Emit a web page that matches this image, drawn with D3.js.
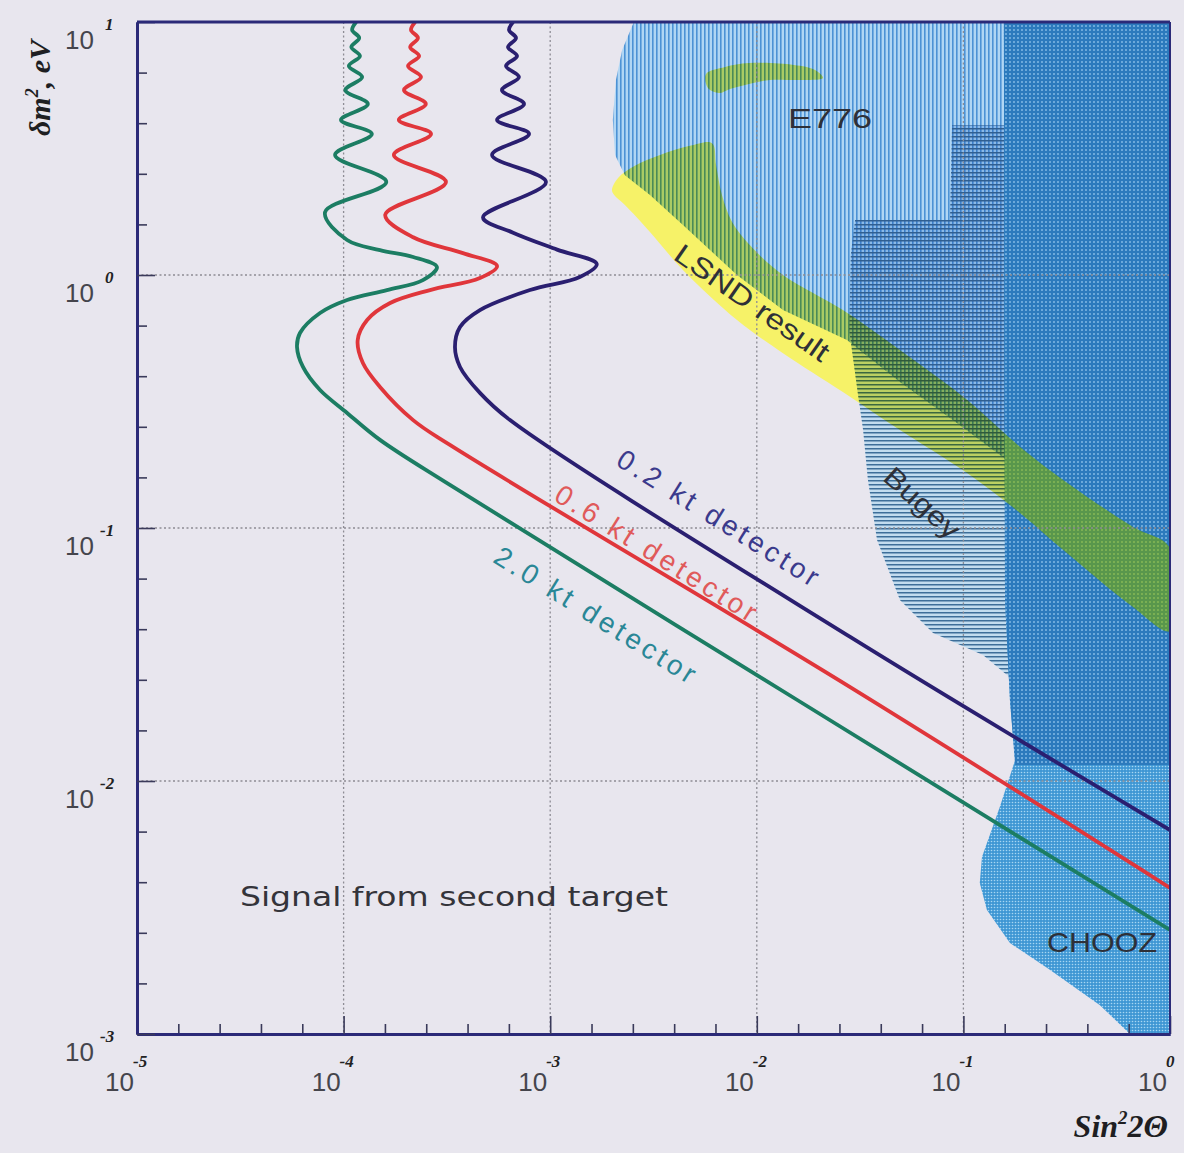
<!DOCTYPE html>
<html>
<head>
<meta charset="utf-8">
<script src="https://cdn.jsdelivr.net/npm/d3@7"></script>
<style>
  html, body { margin: 0; padding: 0; background: #e8e6ee; }
  svg { display: block; }
</style>
</head>
<body>
<svg id="chart" width="1184" height="1153"></svg>
<script>
// ---- axes ----
const xDomain = [1e-5, 1];
const yDomain = [1e-3, 10];
const xDecades = [-5, -4, -3, -2, -1, 0];
const yDecades = [-3, -2, -1, 0, 1];
const minorSteps = [0.2, 0.4, 0.6, 0.8];

// ---- sensitivity curves: [sin²2θ, δm² in eV²] ----
const curve02kt = [
  [6.61e-4, 10], [6.32e-4, 9.30], [6.83e-4, 8.65], [6.25e-4, 7.96], [6.91e-4, 7.34],
  [6.11e-4, 6.70], [7.06e-4, 6.06], [5.84e-4, 5.38], [7.47e-4, 4.74], [5.53e-4, 4.10],
  [7.90e-4, 3.61], [5.23e-4, 2.98], [9.54e-4, 2.33], [4.73e-4, 1.69], [6.61e-4, 1.47],
  [1.08e-3, 1.26], [1.68e-3, 1.105], [1.39e-3, 0.982], [7.98e-4, 0.872], [4.57e-4, 0.727],
  [3.66e-4, 0.623], [3.46e-4, 0.519], [3.66e-4, 0.433], [4.57e-4, 0.342], [6.39e-4, 0.267],
  [2.83e-2, 0.0371], [1.0, 0.00640]
];
const curve06kt = [
  [2.22e-4, 10], [2.12e-4, 9.30], [2.29e-4, 8.65], [2.10e-4, 7.96], [2.32e-4, 7.34],
  [2.05e-4, 6.70], [2.37e-4, 6.06], [1.96e-4, 5.38], [2.50e-4, 4.74], [1.85e-4, 4.10],
  [2.65e-4, 3.61], [1.75e-4, 2.98], [3.13e-4, 2.33], [1.59e-4, 1.73], [2.17e-4, 1.41],
  [3.78e-4, 1.22], [5.53e-4, 1.085], [4.57e-4, 0.973], [2.62e-4, 0.872], [1.68e-4, 0.775],
  [1.30e-4, 0.664], [1.17e-4, 0.553], [1.24e-4, 0.449], [1.50e-4, 0.361], [2.17e-4, 0.267],
  [3.27e-4, 0.213], [2.83e-2, 0.0235], [1.0, 0.00378]
];
const curve20kt = [
  [1.15e-4, 10], [1.10e-4, 9.30], [1.19e-4, 8.65], [1.09e-4, 7.96], [1.20e-4, 7.34],
  [1.06e-4, 6.70], [1.23e-4, 6.06], [1.02e-4, 5.38], [1.31e-4, 4.74], [9.71e-5, 4.10],
  [1.37e-4, 3.61], [9.09e-5, 2.98], [1.61e-4, 2.33], [8.13e-5, 1.77], [1.04e-4, 1.375],
  [1.50e-4, 1.255], [2.17e-4, 1.178], [2.83e-4, 1.075], [2.42e-4, 0.955], [1.62e-4, 0.872],
  [1.04e-4, 0.797], [7.69e-5, 0.708], [6.15e-5, 0.590], [5.95e-5, 0.519], [6.36e-5, 0.433],
  [7.69e-5, 0.351], [1.04e-4, 0.285], [1.50e-4, 0.223], [3.27e-4, 0.148],
  [1.57e-2, 0.0209], [1.0, 0.00258]
];

// ---- excluded / allowed regions: [sin²2θ, δm²] ----
const e776Region = [
  [2.54e-3, 10], [1, 10], [1, 0.155], [0.188, 0.1696], [0.0963, 0.255], [0.0493, 0.378],
  [0.0273, 0.553], [0.01339, 0.727], [8.02e-3, 1.0], [4.39e-3, 1.576], [3.04e-3, 2.07],
  [2.30e-3, 2.48], [2.06e-3, 2.98], [2.01e-3, 4.10], [2.08e-3, 5.90], [2.23e-3, 7.75]
];
const bugeyRegion = [
  [1, 3.92], [0.0881, 3.92], [0.0861, 1.65], [0.0299, 1.65], [0.0285, 1.2], [0.0280, 0.606],
  [0.0309, 0.336], [0.0327, 0.244], [0.0345, 0.155], [0.0382, 0.0897], [0.0493, 0.0519],
  [0.0713, 0.0385], [0.1244, 0.0315], [0.1738, 0.0251], [1, 0.0251]
];
const choozRegion = [
  [0.157, 10], [1, 10], [1, 0.001], [0.640, 0.001], [0.458, 0.0013], [0.263, 0.00179],
  [0.168, 0.00229], [0.130, 0.00309], [0.120, 0.00395], [0.123, 0.00501], [0.150, 0.00789],
  [0.178, 0.0121], [0.168, 0.0209], [0.159, 0.0519]
];
const choozBugeyOverlap = [
  [0.157, 10], [1, 10], [1, 0.01157], [0.178, 0.01157], [0.168, 0.0209], [0.159, 0.0519]
];
const lsndBand = [
  [1.99e-3, 2.17], [2.13e-3, 2.42], [2.57e-3, 2.70], [3.40e-3, 2.98], [4.75e-3, 3.24],
  [6.07e-3, 3.32], [6.35e-3, 2.72], [6.78e-3, 2.07], [7.59e-3, 1.62], [9.27e-3, 1.31],
  [0.01339, 1.00], [0.0261, 0.727], [0.0493, 0.505], [0.1041, 0.321], [0.188, 0.209],
  [0.317, 0.151], [0.662, 0.1009], [1, 0.0833],
  [1, 0.0392], [0.662, 0.0487], [0.317, 0.0796], [0.188, 0.1147], [0.1041, 0.165],
  [0.0493, 0.244], [0.0261, 0.345], [0.01339, 0.491], [8.02e-3, 0.664], [4.39e-3, 1.047],
  [3.04e-3, 1.48], [2.30e-3, 1.89], [2.04e-3, 2.07]
];
const lsndIsland = [
  [5.68e-3, 6.23], [7.02e-3, 6.64], [9.17e-3, 6.88], [0.01513, 6.76], [0.01913, 6.46],
  [0.0209, 6.01], [0.01618, 5.90], [0.01159, 5.90], [9.17e-3, 5.69], [7.42e-3, 5.44],
  [6.56e-3, 5.24], [5.80e-3, 5.48]
];

// ---- text annotations (anchored in data coordinates) ----
const regionLabels = [
  { text: "E776",        at: [0.0226, 4.14],   angle: 0,  len: 84 },
  { text: "LSND result", at: [9.48e-3, 0.775], angle: 35, len: 182 },
  { text: "Bugey",       at: [0.063, 0.1256],  angle: 42, len: 92 },
  { text: "CHOOZ",       at: [0.469, 0.00231], angle: 0,  len: 110 }
];
const curveLabels = [
  { text: "0.2 kt detector", at: [6.49e-3, 0.1095], color: "#3b3a8c" },
  { text: "0.6 kt detector", at: [3.25e-3, 0.0796], color: "#e05a5a" },
  { text: "2.0 kt detector", at: [1.65e-3, 0.0453], color: "#2a8796" }
];
const noteText = { text: "Signal from second target", at: [3.42e-4, 0.00348] };

// ---- layout ----
const m = { left: 137, right: 1170, top: 22, bottom: 1034 };
const navy = "#2b2a78";

const svg = d3.select("#chart");
const x = d3.scaleLog().domain(xDomain).range([m.left, m.right]);
const y = d3.scaleLog().domain(yDomain).range([m.bottom, m.top]);

const poly = d3.line().x(d => x(d[0])).y(d => y(d[1])).curve(d3.curveLinearClosed);
const smoothPoly = d3.line().x(d => x(d[0])).y(d => y(d[1])).curve(d3.curveCatmullRomClosed.alpha(0.5));

const defs = svg.append("defs");
defs.append("clipPath").attr("id", "plotClip")
  .append("rect").attr("x", m.left).attr("y", m.top)
  .attr("width", m.right - m.left).attr("height", m.bottom - m.top);
defs.append("clipPath").attr("id", "e776Clip").append("path").attr("d", poly(e776Region));
defs.append("clipPath").attr("id", "darkClip").append("path").attr("d", poly(choozBugeyOverlap));

// fill textures
const pV = defs.append("pattern").attr("id", "hatchV")
  .attr("patternUnits", "userSpaceOnUse").attr("width", 4).attr("height", 4);
pV.append("rect").attr("width", 4).attr("height", 4).attr("fill", "#b0d6f4");
pV.append("rect").attr("width", 1.6).attr("height", 4).attr("fill", "#4c92d5");

const pH = defs.append("pattern").attr("id", "hatchH")
  .attr("patternUnits", "userSpaceOnUse").attr("width", 4).attr("height", 4);
pH.append("rect").attr("width", 4).attr("height", 1.5).attr("fill", "#3d6e99");

const pDark = defs.append("pattern").attr("id", "dotsDark")
  .attr("patternUnits", "userSpaceOnUse").attr("width", 4).attr("height", 4);
pDark.append("rect").attr("width", 4).attr("height", 4).attr("fill", "#2c7abd");
pDark.append("circle").attr("cx", 2).attr("cy", 2).attr("r", 0.95).attr("fill", "#86bde8");

const pChooz = defs.append("pattern").attr("id", "dotsChooz")
  .attr("patternUnits", "userSpaceOnUse").attr("width", 3).attr("height", 3);
pChooz.append("rect").attr("width", 3).attr("height", 3).attr("fill", "#3f97d4");
pChooz.append("circle").attr("cx", 1.5).attr("cy", 1.5).attr("r", 0.8).attr("fill", "#a6d6f3");

const regions = svg.append("g").attr("clip-path", "url(#plotClip)");
regions.append("path").attr("d", poly(bugeyRegion)).attr("fill", "#c2dcef");
regions.append("path").attr("d", poly(e776Region)).attr("fill", "url(#hatchV)");
regions.append("path").attr("d", poly(bugeyRegion)).attr("fill", "url(#hatchH)");
// where E776 and Bugey overlap the cross-hatching reads a little darker
regions.append("path").attr("d", poly(bugeyRegion)).attr("clip-path", "url(#e776Clip)")
  .attr("fill", "#c8ddf2").style("mix-blend-mode", "multiply");
regions.append("path").attr("d", poly(choozRegion)).attr("fill", "url(#dotsChooz)");
regions.append("path").attr("d", poly(choozBugeyOverlap)).attr("fill", "url(#dotsDark)");
regions.append("path").attr("d", smoothPoly(lsndBand))
  .attr("fill", "#f6f268").style("mix-blend-mode", "multiply");
regions.append("path").attr("d", smoothPoly(lsndIsland))
  .attr("fill", "#f6f268").style("mix-blend-mode", "multiply");
// LSND band over the darkest exclusion area shows a lighter green
regions.append("path").attr("d", smoothPoly(lsndBand)).attr("clip-path", "url(#darkClip)")
  .attr("fill", "#92c44c").attr("opacity", 0.45);

// dotted decade grid
const grid = svg.append("g").attr("stroke", "#8d8c94").attr("stroke-width", 1.3)
  .attr("stroke-dasharray", "2,2.5").attr("fill", "none");
xDecades.slice(1, -1).forEach(e => {
  grid.append("line").attr("x1", x(10 ** e)).attr("x2", x(10 ** e))
    .attr("y1", m.top).attr("y2", m.bottom);
});
yDecades.slice(1, -1).forEach(e => {
  grid.append("line").attr("x1", m.left).attr("x2", m.right)
    .attr("y1", y(10 ** e)).attr("y2", y(10 ** e));
});

// sensitivity curves
const curveLine = d3.line().x(d => x(d[0])).y(d => y(d[1])).curve(d3.curveCatmullRom.alpha(0.5));
const curves = svg.append("g").attr("clip-path", "url(#plotClip)").attr("fill", "none")
  .attr("stroke-width", 3.8).attr("stroke-linejoin", "round");
curves.append("path").attr("d", curveLine(curve20kt)).attr("stroke", "#1c7d63");
curves.append("path").attr("d", curveLine(curve06kt)).attr("stroke", "#e0363b");
curves.append("path").attr("d", curveLine(curve02kt)).attr("stroke", "#2a1f70");

// annotations
const sans = "'Liberation Sans', Arial, sans-serif";
regionLabels.forEach(l => {
  svg.append("text")
    .attr("transform", `translate(${x(l.at[0])},${y(l.at[1])}) rotate(${l.angle})`)
    .attr("text-anchor", "middle").attr("dominant-baseline", "central")
    .attr("font-family", sans).attr("font-size", 28).attr("fill", "#2e3038")
    .attr("textLength", l.len).attr("lengthAdjust", "spacingAndGlyphs")
    .text(l.text);
});
curveLabels.forEach(l => {
  svg.append("text")
    .attr("transform", `translate(${x(l.at[0])},${y(l.at[1])}) rotate(32)`)
    .attr("text-anchor", "middle").attr("dominant-baseline", "central")
    .attr("font-family", sans).attr("font-size", 28).attr("fill", l.color)
    .attr("textLength", 232).attr("lengthAdjust", "spacing")
    .text(l.text);
});
svg.append("text")
  .attr("x", x(noteText.at[0])).attr("y", y(noteText.at[1]))
  .attr("text-anchor", "middle").attr("dominant-baseline", "central")
  .attr("font-family", "'DejaVu Sans', sans-serif").attr("font-size", 27).attr("fill", "#34343a")
  .attr("textLength", 428).attr("lengthAdjust", "spacingAndGlyphs")
  .text(noteText.text);

// axes with inward ticks
const majorX = xDecades.map(e => 10 ** e);
const minorX = xDecades.slice(0, -1).flatMap(e => minorSteps.map(f => 10 ** (e + f)));
const majorY = yDecades.map(e => 10 ** e);
const minorY = yDecades.slice(0, -1).flatMap(e => minorSteps.map(f => 10 ** (e + f)));

function styleAxis(g, width) {
  g.select(".domain").attr("stroke", navy).attr("stroke-width", width);
  g.selectAll(".tick line").attr("stroke", "#3a3a5a").attr("stroke-width", 1.6);
  g.selectAll(".tick text").remove();
}
const xAxisG = svg.append("g").attr("transform", `translate(0,${m.bottom})`);
xAxisG.append("g").call(d3.axisBottom(x).tickValues(minorX).tickSize(-10).tickSizeOuter(0).tickFormat(""))
  .call(g => styleAxis(g, 3));
xAxisG.append("g").call(d3.axisBottom(x).tickValues(majorX).tickSize(-18).tickSizeOuter(0).tickFormat(""))
  .call(g => styleAxis(g, 3));
const yAxisG = svg.append("g").attr("transform", `translate(${m.left},0)`);
yAxisG.append("g").call(d3.axisLeft(y).tickValues(minorY).tickSize(-10).tickSizeOuter(0).tickFormat(""))
  .call(g => styleAxis(g, 3));
yAxisG.append("g").call(d3.axisLeft(y).tickValues(majorY).tickSize(-18).tickSizeOuter(0).tickFormat(""))
  .call(g => styleAxis(g, 3));

// top and right frame
svg.append("line").attr("x1", m.left).attr("x2", m.right).attr("y1", m.top).attr("y2", m.top)
  .attr("stroke", navy).attr("stroke-width", 3);
svg.append("line").attr("x1", m.right).attr("x2", m.right).attr("y1", m.top).attr("y2", m.bottom)
  .attr("stroke", navy).attr("stroke-width", 2);

// decade labels: "10" with a bold italic exponent
const expFont = "'Liberation Serif', 'DejaVu Serif', serif";
xDecades.forEach(e => {
  const px = x(10 ** e);
  svg.append("text").attr("x", px - 3).attr("y", 1091).attr("text-anchor", "end")
    .attr("font-family", sans).attr("font-size", 26).attr("fill", "#45454c").text("10");
  svg.append("text").attr("x", px - 4).attr("y", 1067).attr("text-anchor", "start")
    .attr("font-family", expFont).attr("font-style", "italic").attr("font-weight", "bold")
    .attr("font-size", 17).attr("fill", "#222").text(e === 0 ? "0" : `-${-e}`);
});
yDecades.forEach(e => {
  const py = y(10 ** e);
  svg.append("text").attr("x", 94).attr("y", py + 27).attr("text-anchor", "end")
    .attr("font-family", sans).attr("font-size", 26).attr("fill", "#45454c").text("10");
  svg.append("text").attr("x", e < 0 ? 100 : 105).attr("y", py + 8).attr("text-anchor", "start")
    .attr("font-family", expFont).attr("font-style", "italic").attr("font-weight", "bold")
    .attr("font-size", 17).attr("fill", "#222").text(e < 0 ? `-${-e}` : `${e}`);
});

// axis titles
const yTitle = svg.append("text").attr("transform", "translate(50,88) rotate(-90)")
  .attr("text-anchor", "middle").attr("font-family", expFont).attr("font-style", "italic")
  .attr("font-weight", "bold").attr("font-size", 30).attr("fill", "#1e1e22");
yTitle.append("tspan").text("δm");
yTitle.append("tspan").attr("font-size", 18).attr("dy", -12).text("2");
yTitle.append("tspan").attr("dy", 12).text(", eV");

const xTitle = svg.append("text").attr("x", 1168).attr("y", 1137).attr("text-anchor", "end")
  .attr("font-family", expFont).attr("font-style", "italic").attr("font-weight", "bold")
  .attr("font-size", 32).attr("fill", "#1e1e22");
xTitle.append("tspan").text("Sin");
xTitle.append("tspan").attr("font-size", 19).attr("dy", -13).text("2");
xTitle.append("tspan").attr("dy", 13).text("2Θ");
</script>
</body>
</html>
